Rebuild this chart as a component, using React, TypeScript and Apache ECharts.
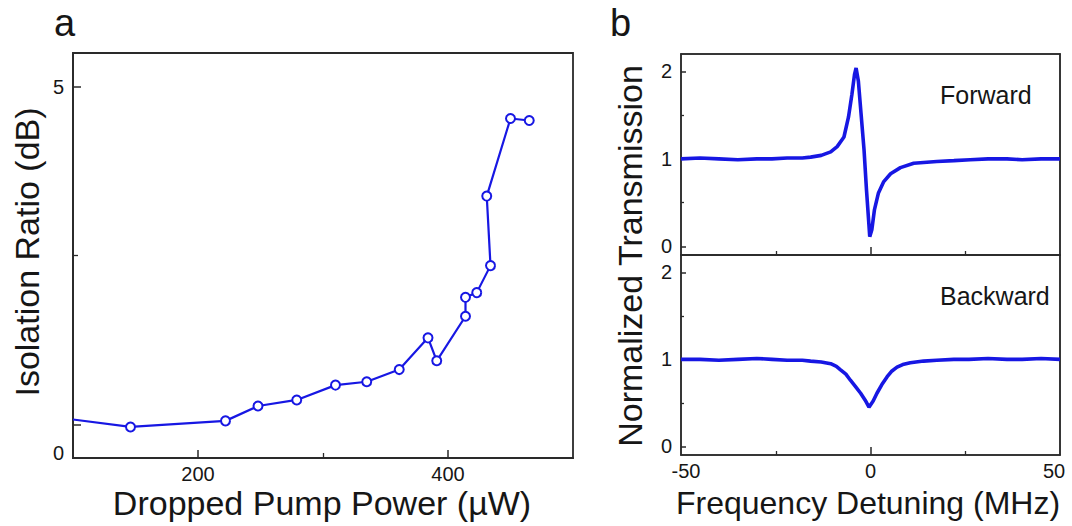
import React, { useEffect, useRef } from 'react';
import * as echarts from 'echarts';

// Panel a: isolation ratio vs dropped pump power (points in drawing order)
const powerUW = [100, 146, 222, 248, 279, 310, 335, 361, 384, 391, 414, 414, 423, 434, 431, 450, 465];
const isolationDB = [0.07, -0.04, 0.05, 0.27, 0.36, 0.58, 0.63, 0.81, 1.28, 0.94, 1.6, 1.88, 1.95, 2.35, 3.38, 4.53, 4.5];

// Panel b: forward transmission spectrum
const fwdDetuning = [-50, -45, -40, -35, -30, -26, -22, -18, -15.8, -13, -10.5, -8.8, -7.0, -5.8, -4.9, -4.2, -3.8, -3.2, -2.5, -1.7, -1.05, -0.5, -0.2, 0.35, 1.05, 2.1, 3.5, 5.3, 7.9, 11.4, 17.5, 22, 26.3, 31, 36, 40, 45, 50];
const fwdTrans = [1.0, 1.01, 1.0, 0.99, 1.0, 1.0, 1.01, 1.01, 1.02, 1.04, 1.08, 1.14, 1.25, 1.48, 1.74, 1.97, 2.04, 1.89, 1.52, 1.1, 0.64, 0.3, 0.11, 0.19, 0.42, 0.61, 0.74, 0.83, 0.9, 0.95, 0.97, 0.98, 0.99, 1.0, 1.0, 0.99, 1.0, 1.0];

// Panel b: backward transmission spectrum
const bwdDetuning = [-50, -45, -40, -35, -30, -26, -22, -18, -15.8, -13, -10.5, -9, -7.9, -6.5, -5.3, -4, -2.6, -1.4, -0.4, 0.7, 1.7, 3, 4.4, 5.5, 7, 8.5, 10.5, 14, 17.5, 22, 26, 31, 36, 40, 45, 50];
const bwdTrans = [1.0, 1.0, 0.99, 1.0, 1.01, 1.0, 0.99, 0.99, 0.98, 0.97, 0.95, 0.92, 0.88, 0.83, 0.76, 0.69, 0.61, 0.53, 0.45, 0.52, 0.61, 0.71, 0.8, 0.86, 0.91, 0.94, 0.96, 0.98, 0.99, 1.0, 1.0, 1.01, 1.0, 1.0, 1.01, 1.0];

// Tick labels
const aXLabels = [200, 400];
const aYLabels = ['0', '5'];
const bXLabels = [-50, 0, 50];
const bYLabels = [0, 1, 2];

const BLUE = '#1717e3';
const AXIS = '#2a2a2a';
const TEXT = '#161616';
const FONT = 'Liberation Sans, Arial, sans-serif';

function mainAxis(grid: number, min: number, max: number, ticks: number[], len: number, labels: any, position: string, lw = 1.5) {
  return {
    type: 'value',
    gridIndex: grid,
    min,
    max,
    position,
    axisLine: { show: true, onZero: false, lineStyle: { color: AXIS, width: lw } },
    axisTick: { show: true, inside: true, length: len, customValues: ticks, lineStyle: { color: AXIS, width: 1.5 } },
    axisLabel: labels,
    splitLine: { show: false },
  };
}

function tickAxis(grid: number, min: number, max: number, ticks: number[], len: number, position: string) {
  return {
    type: 'value',
    gridIndex: grid,
    min,
    max,
    position,
    axisLine: { show: false, onZero: false },
    axisTick: { show: true, inside: true, length: len, customValues: ticks, lineStyle: { color: AXIS, width: 1.3 } },
    axisLabel: { show: false },
    splitLine: { show: false },
  };
}

function edgeAxis(grid: number, min: number, max: number, position: string) {
  return {
    type: 'value',
    gridIndex: grid,
    min,
    max,
    position,
    axisLine: { show: true, onZero: false, lineStyle: { color: AXIS, width: 1.5 } },
    axisTick: { show: false },
    axisLabel: { show: false },
    splitLine: { show: false },
  };
}

export default function App() {
  const ref = useRef<HTMLDivElement>(null);

  useEffect(() => {
    if (!ref.current) return;
    const chart = echarts.init(ref.current, undefined, { renderer: 'svg' });
    const labelStyle = { color: TEXT, fontSize: 20, fontFamily: FONT };

    const option: any = {
      animation: false,
      backgroundColor: '#ffffff',
      grid: [
        { left: 73, top: 53, width: 500, height: 405, show: true, borderColor: AXIS, borderWidth: 1.8, backgroundColor: 'transparent' },
        { left: 681, top: 54, width: 379, height: 201, show: true, borderColor: AXIS, borderWidth: 1.5, backgroundColor: 'transparent' },
        { left: 681, top: 255, width: 379, height: 200, show: true, borderColor: AXIS, borderWidth: 1.5, backgroundColor: 'transparent' },
      ],
      xAxis: [
        mainAxis(0, 100, 500, [200, 400], 8, { show: true, customValues: aXLabels, margin: 6, ...labelStyle }, 'bottom', 1.8),
        tickAxis(0, 100, 500, [300], 5, 'bottom'),
        mainAxis(1, -50, 50, [0], 8, { show: false }, 'bottom'),
        tickAxis(1, -50, 50, [-25, 25], 4, 'bottom'),
        mainAxis(2, -50, 50, [0], 8, {
          show: true,
          customValues: bXLabels,
          margin: 6,
          ...labelStyle,
          formatter: (v: number) => (v < 0 ? `{l|${v}}` : v > 0 ? `{r|${v}}` : `${v}`),
          rich: {
            l: { fontSize: 20, fontFamily: FONT, color: TEXT, padding: [0, 0, 0, 10] },
            r: { fontSize: 20, fontFamily: FONT, color: TEXT, padding: [0, 12, 0, 0] },
          },
        }, 'bottom'),
        tickAxis(2, -50, 50, [-25, 25], 4, 'bottom'),
        edgeAxis(1, -50, 50, 'top'),
      ],
      yAxis: [
        mainAxis(0, -0.5, 5.5, [0, 5], 8, {
          show: true,
          customValues: [-0.42, 5],
          margin: 9,
          formatter: (v: number) => (v > 2.5 ? aYLabels[1] : aYLabels[0]),
          ...labelStyle,
        }, 'left', 1.8),
        tickAxis(0, -0.5, 5.5, [2.5], 5, 'left'),
        mainAxis(1, -0.1, 2.2, [0, 1, 2], 5, { show: true, customValues: bYLabels, margin: 9, ...labelStyle }, 'left'),
        tickAxis(1, -0.1, 2.2, [0.5, 1.5], 3, 'left'),
        mainAxis(2, -0.1, 2.2, [0, 1, 2], 5, { show: true, customValues: bYLabels, margin: 9, ...labelStyle }, 'left'),
        tickAxis(2, -0.1, 2.2, [0.5, 1.5], 3, 'left'),
        edgeAxis(1, -0.1, 2.2, 'right'),
        edgeAxis(2, -0.1, 2.2, 'right'),
      ],
      series: [
        {
          name: 'Isolation Ratio',
          type: 'line',
          xAxisIndex: 0,
          yAxisIndex: 0,
          clip: true,
          symbol: 'emptyCircle',
          symbolSize: 9,
          itemStyle: { color: BLUE, borderWidth: 2 },
          lineStyle: { color: BLUE, width: 2.2 },
          data: powerUW.map((x, i) =>
            i === 0 ? { value: [x, isolationDB[i]], symbol: 'none' } : [x, isolationDB[i]]
          ),
        },
        {
          name: 'Forward',
          type: 'line',
          xAxisIndex: 2,
          yAxisIndex: 2,
          showSymbol: false,
          lineStyle: { color: BLUE, width: 3.6 },
          data: fwdDetuning.map((x, i) => [x, fwdTrans[i]]),
        },
        {
          name: 'Backward',
          type: 'line',
          xAxisIndex: 4,
          yAxisIndex: 4,
          showSymbol: false,
          lineStyle: { color: BLUE, width: 3.6 },
          data: bwdDetuning.map((x, i) => [x, bwdTrans[i]]),
        },
      ],
      graphic: [
        { type: 'text', x: 54, y: 23, style: { text: 'a', font: `38px ${FONT}`, fill: TEXT, align: 'left', verticalAlign: 'middle' } },
        { type: 'text', x: 610, y: 23, style: { text: 'b', font: `38px ${FONT}`, fill: TEXT, align: 'left', verticalAlign: 'middle' } },
        { type: 'text', x: 27, y: 252, rotation: Math.PI / 2, style: { text: 'Isolation Ratio (dB)', font: `34px ${FONT}`, fill: TEXT, align: 'center', verticalAlign: 'middle' } },
        { type: 'text', x: 322, y: 503, style: { text: 'Dropped Pump Power (µW)', font: `34px ${FONT}`, fill: TEXT, align: 'center', verticalAlign: 'middle' } },
        { type: 'text', x: 630, y: 256, rotation: Math.PI / 2, style: { text: 'Normalized Transmission', font: `34px ${FONT}`, fill: TEXT, align: 'center', verticalAlign: 'middle' } },
        { type: 'text', x: 868, y: 503, style: { text: 'Frequency Detuning (MHz)', font: `32px ${FONT}`, fill: TEXT, align: 'center', verticalAlign: 'middle' } },
        { type: 'text', x: 940, y: 95, style: { text: 'Forward', font: `25px ${FONT}`, fill: TEXT, align: 'left', verticalAlign: 'middle' } },
        { type: 'text', x: 940, y: 296, style: { text: 'Backward', font: `25px ${FONT}`, fill: TEXT, align: 'left', verticalAlign: 'middle' } },
      ],
    };

    chart.setOption(option);
    return () => chart.dispose();
  }, []);

  return (
    <div
      ref={ref}
      style={{ position: 'fixed', left: 0, top: 0, width: 1072, height: 526, background: '#ffffff' }}
    />
  );
}
